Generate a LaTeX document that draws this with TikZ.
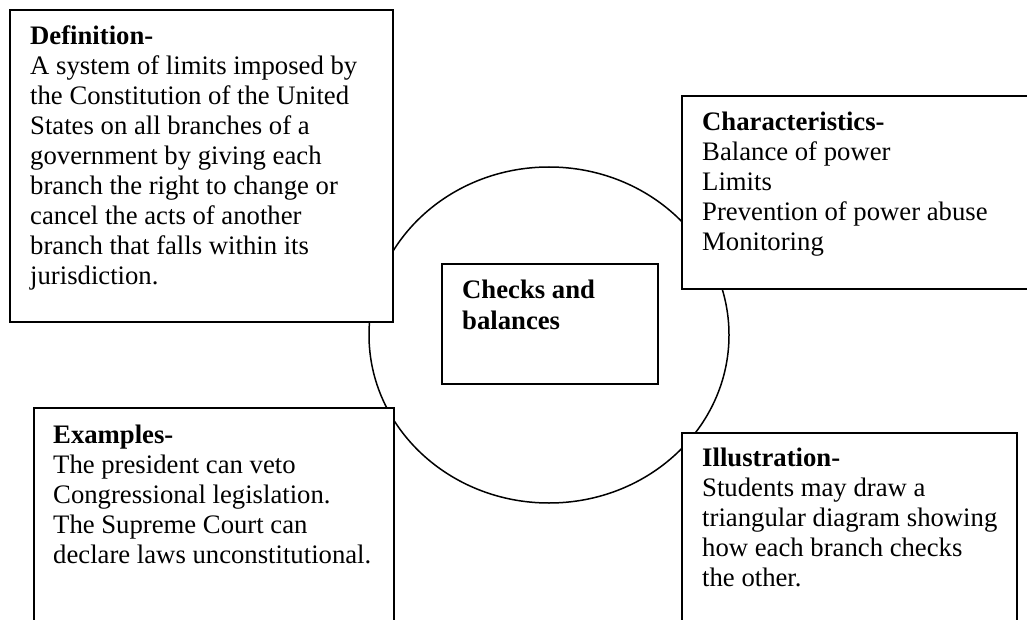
\documentclass[tikz,border=0pt]{standalone}
\usepackage{fontspec}
\setmainfont{Liberation Serif}
\usetikzlibrary{shapes.geometric}
\begin{document}
\begin{tikzpicture}[x=1pt,y=-1pt,
  box/.style={draw,line width=2pt,fill=white,inner sep=0pt,anchor=north west},
  txt/.style={anchor=base west,inner sep=0pt,font=\fontsize{26.7}{30}\selectfont}]
\useasboundingbox (0,0) rectangle (1027,620);
\clip (0,0) rectangle (1027,620);
\fill[white] (0,0) rectangle (1027,620);
\node[draw,line width=1.5pt,ellipse,minimum width=360pt,minimum height=336pt,inner sep=0pt] (circ) at (549,335) {};
\node[box,minimum width=383pt,minimum height=312pt] (defbox) at (9,9) {};
\node[box,minimum width=400pt,minimum height=193pt] (charbox) at (681,95) {};
\node[box,line width=1.5pt,minimum width=216pt,minimum height=120pt] (centbox) at (441,263) {};
\node[box,minimum width=360pt,minimum height=250pt] (exbox) at (33,407) {};
\node[box,minimum width=335pt,minimum height=250pt] (illbox) at (681,432) {};
\node[txt] (deftxt) at (30,45) {\begin{tabular}[t]{@{}l@{}}\textbf{Definition-}\\
A system of limits imposed by\\
the Constitution of the United\\
States on all branches of a\\
government by giving each\\
branch the right to change or\\
cancel the acts of another\\
branch that falls within its\\
jurisdiction.\end{tabular}};
\node[txt] (chartxt) at (702,131) {\begin{tabular}[t]{@{}l@{}}\textbf{Characteristics-}\\
Balance of power\\
Limits\\
Prevention of power abuse\\
Monitoring\end{tabular}};
\node[txt,font=\fontsize{26.7}{32}\selectfont] (centtxt) at (462,298) {\begin{tabular}[t]{@{}l@{}}\textbf{Checks and}\\
\textbf{balances}\end{tabular}};
\node[txt] (extxt) at (53,443) {\begin{tabular}[t]{@{}l@{}}\textbf{Examples-}\\
The president can veto\\
Congressional legislation.\\
The Supreme Court can\\
declare laws unconstitutional.\end{tabular}};
\node[txt] (illtxt) at (702,466) {\begin{tabular}[t]{@{}l@{}}\textbf{Illustration-}\\
Students may draw a\\
triangular diagram showing\\
how each branch checks\\
the other.\end{tabular}};
\end{tikzpicture}
\end{document}
